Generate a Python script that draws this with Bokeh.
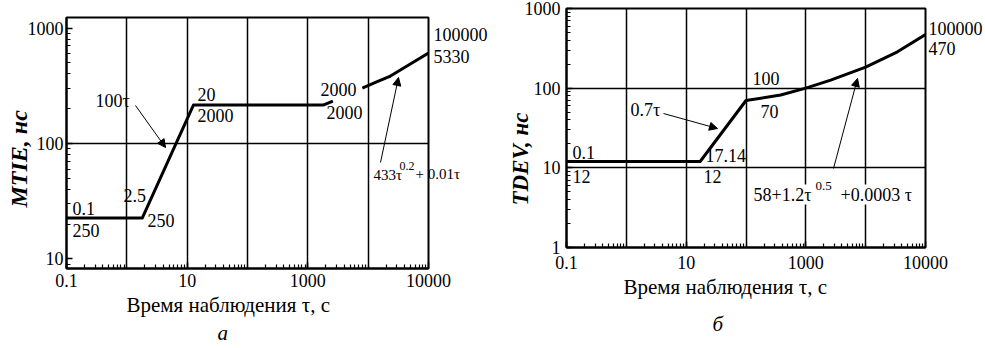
import math
from bokeh.plotting import figure
from bokeh.layouts import row, column
from bokeh.models import (Range1d, FixedTicker, Label, Arrow, NormalHead, PrintfTickFormatter,
                          LogAxis, Title)
from bokeh.embed import file_html
from bokeh.resources import INLINE

# ---------------- data ----------------
# panel a: MTIE (values against the printed axis)
mtie_tau = [0.1, 1.8, 12.7, 1800, 2600]
mtie_ns = [22.6, 22.6, 215, 215, 233]
mtie_tail_tau = [8000, 13800, 23400, 50000, 100000]
mtie_tail_ns = [302, 341, 384, 488, 608]

# panel b: TDEV
tdev_tau = [0.1, 17.14, 100, 380, 1000, 2600, 10000, 34000, 100000]
tdev_ns = [12, 12, 70, 82, 100, 126, 184, 286, 470]

x_ticks = [0.1, 10, 1000, 100000]
x_tick_text = {100000: "10000"}
x_decades = [0.1, 1, 10, 100, 1000, 10000, 100000]
mtie_y_ticks = [10, 100, 1000]
mtie_y_grid = [100]
tdev_y_ticks = [1, 10, 100, 1000]
tdev_y_grid = [10, 100]

# texts written beside the right edge (level on the y axis -> text)
mtie_formula_tail = {54: "+ 0.01τ"}
mtie_end_notes = {879: "100000", 566: "5330"}
tdev_end_notes = {561: "100000", 315: "470"}

SERIF = "Liberation Serif"
H = 348


def panel(width, page_left, frame, y_range, y_ticks, y_grid, xlab_standoff, ylab_standoff):
    fl, fr, ft, fb = frame
    p = figure(width=width, height=H, title=None,
               x_axis_type="log", y_axis_type="log",
               x_range=Range1d(0.1, 100000), y_range=Range1d(*y_range),
               output_backend="svg", toolbar_location=None,
               min_border_left=fl - page_left, min_border_right=page_left + width - fr,
               min_border_top=ft, min_border_bottom=H - fb,
               background_fill_color="white", border_fill_color="white")
    p.outline_line_color = "black"
    p.outline_line_width = 2
    lo_y = int(math.floor(math.log10(y_range[0])))
    hi_y = int(math.ceil(math.log10(y_range[1])))
    x_minor = [m * 10.0 ** e for e in range(-1, 5) for m in range(1, 10)]
    y_minor = [m * 10.0 ** e for e in range(lo_y, hi_y) for m in range(1, 10)]
    p.xaxis[0].ticker = FixedTicker(ticks=x_ticks, minor_ticks=x_minor)
    p.yaxis[0].ticker = FixedTicker(ticks=y_ticks, minor_ticks=y_minor)
    p.xaxis[0].major_label_overrides = x_tick_text
    for ax in (p.xaxis[0], p.yaxis[0]):
        ax.formatter = PrintfTickFormatter(format="%g")
        ax.axis_line_width = 2
        ax.axis_line_color = "black"
        ax.major_tick_in = 6
        ax.major_tick_out = 0
        ax.minor_tick_in = 4
        ax.minor_tick_out = 0
        ax.major_tick_line_color = "black"
        ax.minor_tick_line_color = "black"
        ax.major_tick_line_width = 1.5
        ax.minor_tick_line_width = 1.2
        ax.major_label_text_font = SERIF
        ax.major_label_text_font_size = "18px"
        ax.major_label_text_color = "black"
    p.xaxis[0].major_label_standoff = xlab_standoff
    p.yaxis[0].major_label_standoff = ylab_standoff
    p.xgrid.ticker = FixedTicker(ticks=x_decades)
    p.ygrid.ticker = FixedTicker(ticks=y_grid)
    for g in (p.xgrid[0], p.ygrid[0]):
        g.grid_line_color = "black"
        g.grid_line_width = 1.5
        g.grid_line_alpha = 1.0

    lx0, lx1 = math.log10(0.1), math.log10(100000)
    ly0, ly1 = math.log10(y_range[0]), math.log10(y_range[1])

    def X(px):
        return 10 ** (lx0 + (px - fl) / (fr - fl) * (lx1 - lx0))

    def Y(py):
        return 10 ** (ly0 + (fb - py) / (fb - ft) * (ly1 - ly0))

    return p, X, Y


def side_text(p, notes, standoff, size="18px"):
    ax = LogAxis(ticker=FixedTicker(ticks=list(notes.keys())),
                 major_label_overrides=notes,
                 axis_line_color=None, major_tick_line_color=None, minor_tick_line_color=None,
                 major_tick_in=0, major_tick_out=0, minor_tick_in=0, minor_tick_out=0,
                 major_label_standoff=standoff, major_label_text_font=SERIF,
                 major_label_text_font_size=size, major_label_text_color="black")
    p.add_layout(ax, "right")


def title(p, place, text, offset, size, standoff, style="normal", valign="middle"):
    p.add_layout(Title(text=text, align="left", offset=offset, standoff=standoff,
                       vertical_align=valign, text_font=SERIF, text_font_size=size,
                       text_font_style=style, text_color="black"), place)


def label(p, X, Y, text, px, py, size="18px", align="left", style="normal", bg=None):
    p.add_layout(Label(x=X(px), y=Y(py), text=text, text_font=SERIF, text_font_size=size,
                       text_font_style=style, text_align=align, text_baseline="middle",
                       text_color="black", background_fill_color=bg))


def arrow(p, X, Y, x0, y0, x1, y1):
    p.add_layout(Arrow(end=NormalHead(size=8, fill_color="black", line_color="black", line_width=1),
                       x_start=X(x0), y_start=Y(y0), x_end=X(x1), y_end=Y(y1),
                       line_color="black", line_width=1))


# ---------------- panel a ----------------
p1, X1, Y1 = panel(490, 0, (66, 428, 17, 268), (8.27, 1233), mtie_y_ticks, mtie_y_grid, 5, 3)
p1.line(mtie_tau, mtie_ns, line_width=3, color="black", line_join="round")
p1.line(mtie_tail_tau, mtie_tail_ns, line_width=3, color="black", line_join="round")
side_text(p1, mtie_formula_tail, -13, size="15px")
side_text(p1, mtie_end_notes, -29)

label(p1, X1, Y1, "0.1", 72, 208)
label(p1, X1, Y1, "250", 72, 230)
label(p1, X1, Y1, "2.5", 123, 195)
label(p1, X1, Y1, "250", 147, 220)
label(p1, X1, Y1, "100τ", 95, 100)
arrow(p1, X1, Y1, 135, 105, 165, 147)
label(p1, X1, Y1, "20", 197, 94)
label(p1, X1, Y1, "2000", 197, 115)
label(p1, X1, Y1, "2000", 356, 89, align="right")
label(p1, X1, Y1, "2000", 362, 112, align="right")
label(p1, X1, Y1, "433τ", 373, 174, size="15px", bg="white")
label(p1, X1, Y1, "0.2", 399, 165, size="12px")
arrow(p1, X1, Y1, 380, 162, 398, 77)
title(p1, "below", "Время наблюдения τ, с", 60, "21px", 4)
title(p1, "below", "а", 151, "21px", 0, style="italic")
title(p1, "left", "MTIE, нс", 61, "24px", -16, style="bold italic")

# ---------------- panel b ----------------
p2, X2, Y2 = panel(495, 490, (566, 925, 8, 247), (1, 1000), tdev_y_ticks, tdev_y_grid, 8, 6)
p2.line(tdev_tau, tdev_ns, line_width=3, color="black", line_join="round")
side_text(p2, tdev_end_notes, 3)

label(p2, X2, Y2, "0.1", 572, 152)
label(p2, X2, Y2, "12", 572, 176, bg="white")
label(p2, X2, Y2, "0.7τ", 630, 109)
arrow(p2, X2, Y2, 663, 113, 717, 128)
label(p2, X2, Y2, "17.14", 705, 155)
label(p2, X2, Y2, "12", 703, 176, bg="white")
label(p2, X2, Y2, "100", 752, 78, bg="white")
label(p2, X2, Y2, "70", 760, 111)
label(p2, X2, Y2, "58+1.2τ", 753, 194, bg="white")
label(p2, X2, Y2, "0.5", 815, 185, size="13px")
label(p2, X2, Y2, "+0.0003 τ", 840, 194, bg="white")
arrow(p2, X2, Y2, 833, 168, 857, 78)
title(p2, "below", "Время наблюдения τ, с", 57, "21px", 4)
title(p2, "below", "б", 146, "21px", 19, style="italic")
title(p2, "left", "TDEV, нс", 42, "23px", -24, style="bold italic")

layout = row(column(p1), column(p2))
open("out.html", "w").write(file_html(layout, INLINE))
